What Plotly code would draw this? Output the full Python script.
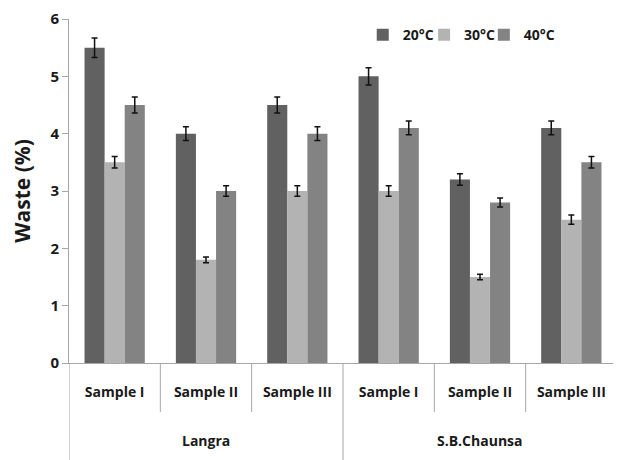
import plotly.graph_objects as go

groups = ["Langra", "S.B.Chaunsa"]
samples = ["Sample I", "Sample II", "Sample III", "Sample I", "Sample II", "Sample III"]
series_names = ["20°C", "30°C", "40°C"]
v20 = [5.5, 4.0, 4.5, 5.0, 3.2, 4.1]
v30 = [3.5, 1.8, 3.0, 3.0, 1.5, 2.5]
v40 = [4.5, 3.0, 4.0, 4.1, 2.8, 3.5]
e20 = [0.17, 0.12, 0.14, 0.15, 0.10, 0.12]
e30 = [0.10, 0.05, 0.09, 0.09, 0.05, 0.08]
e40 = [0.14, 0.09, 0.12, 0.12, 0.08, 0.10]
colors = ["#616161", "#b3b3b3", "#838383"]

font_fam = "Open Sans"
legend_ids = ["legend", "legend2", "legend3"]
legend_x = [0.536, 0.648, 0.757]

xs = list(range(len(samples)))
fig = go.Figure()
for name, vals, errs, col, lg in zip(series_names, [v20, v30, v40], [e20, e30, e40], colors, legend_ids):
    fig.add_trace(go.Bar(
        x=xs, y=vals, name=name, legend=lg, marker=dict(color=col, line=dict(width=0)),
        error_y=dict(type="data", array=errs, visible=True, color="#111111", thickness=1.5, width=3),
    ))

legend_style = dict(orientation="h", y=0.953, xanchor="left", yanchor="middle",
                    font=dict(size=14, family=font_fam, weight="bold"),
                    itemwidth=30, bgcolor="rgba(0,0,0,0)")
# page body has an 8px margin, so the figure is sized 8px smaller and shifted accordingly
fig.update_layout(
    width=613, height=452,
    margin=dict(l=61, r=4, t=11, b=97),
    paper_bgcolor="white", plot_bgcolor="white",
    barmode="group", bargap=0.34, bargroupgap=0,
    font=dict(family=font_fam, color="#1a1a1a"),
    showlegend=True,
    legend=dict(x=legend_x[0], **legend_style),
    legend2=dict(x=legend_x[1], **legend_style),
    legend3=dict(x=legend_x[2], **legend_style),
)
fig.update_yaxes(
    range=[0, 6], dtick=1, showgrid=False, zeroline=False, automargin=False,
    showline=True, linecolor="#a6a6a6", linewidth=1,
    ticks="outside", ticklen=6, tickcolor="#a6a6a6", ticklabeloverflow="allow",
    tickfont=dict(size=15, family=font_fam, weight="bold", color="#1a1a1a"),
    title=dict(text="Waste (%)", font=dict(size=21, family=font_fam, weight="bold"), standoff=20),
)
fig.update_xaxes(
    range=[-0.5, 5.5], tickvals=xs, ticktext=samples, showgrid=False, zeroline=False, automargin=False,
    showline=True, linecolor="#a6a6a6", linewidth=1, ticks="", ticklabeloverflow="allow",
    tickfont=dict(size=14, family=font_fam, weight="bold", color="#1a1a1a"),
    ticklabelstandoff=16,
)
# dividers
for i in range(7):
    xpos = i - 0.5
    long_ = i in (0, 3, 6)
    fig.add_shape(type="line", xref="x", yref="paper", x0=xpos, x1=xpos,
                  y0=0, y1=(-0.282 if long_ else -0.1424),
                  line=dict(color="#a6a6a6", width=1))
for gi, g in enumerate(groups):
    fig.add_annotation(x=1 + 3 * gi, y=-0.224, xref="x", yref="paper", text=g, showarrow=False,
                       yanchor="middle", font=dict(size=14, family=font_fam, weight="bold", color="#1a1a1a"))

fig.write_html("out.html")
